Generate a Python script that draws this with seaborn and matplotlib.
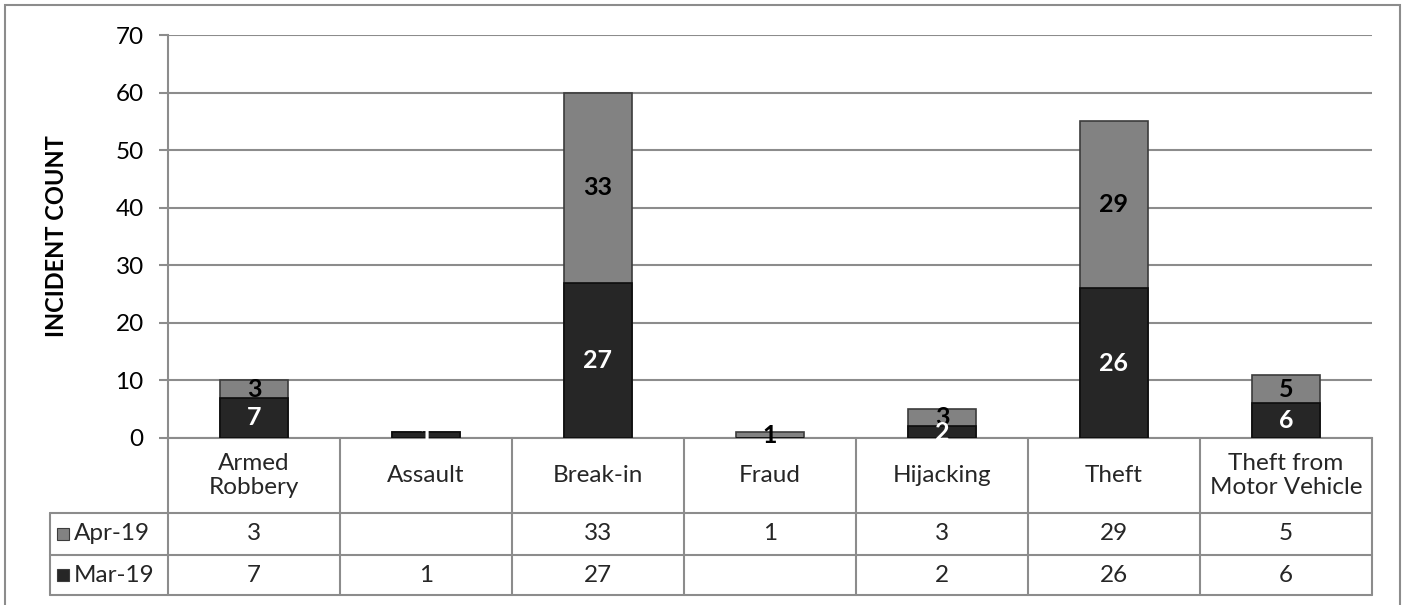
import numpy as np
import pandas as pd
import matplotlib
matplotlib.use("Agg")
import matplotlib.pyplot as plt
import seaborn as sns
from matplotlib.patches import Rectangle
from matplotlib.transforms import blended_transform_factory

categories = ["Armed\nRobbery", "Assault", "Break-in", "Fraud", "Hijacking",
              "Theft", "Theft from\nMotor Vehicle"]
apr_19 = [3, np.nan, 33, 1, 3, 29, 5]
mar_19 = [7, 1, 27, np.nan, 2, 26, 6]
series_names = ["Apr-19", "Mar-19"]

APR_COLOR = "#828282"
MAR_COLOR = "#262626"
GRID = "#8c8c8c"

sns.set_theme(style="white")
plt.rcParams['font.family'] = ['Lato', 'DejaVu Sans']

df = pd.DataFrame({"category": categories, "apr": apr_19, "mar": mar_19})
df["mar0"] = df["mar"].fillna(0)
df["total"] = df["mar0"] + df["apr"].fillna(0)

W, H = 1403, 605
fig = plt.figure(figsize=(W / 100, H / 100), dpi=100)
ax = fig.add_axes([168 / W, 1 - 438 / H, (1372 - 168) / W, 403 / H])

# stacked: full height in grey, Mar-19 drawn over it
sns.barplot(data=df, x="category", y="total", color=APR_COLOR, width=0.4,
            saturation=1, edgecolor="#3c3c3c", linewidth=1.2, ax=ax, zorder=3)
sns.barplot(data=df, x="category", y="mar0", color=MAR_COLOR, width=0.4,
            saturation=1, edgecolor="#0d0d0d", linewidth=1.2, ax=ax, zorder=4)

# value labels
for i, row in df.iterrows():
    if not np.isnan(row["apr"]):
        ax.text(i, row["mar0"] + row["apr"] / 2, f"{int(row['apr'])}", ha="center",
                va="center", fontsize=18, fontweight="bold", color="black", zorder=6)
    if not np.isnan(row["mar"]):
        ax.text(i, row["mar"] / 2, f"{int(row['mar'])}", ha="center",
                va="center", fontsize=18, fontweight="bold", color="white", zorder=6)

ax.set_xlim(-0.5, 6.5)
ax.set_ylim(0, 70)
ax.set_yticks(range(0, 71, 10))
ax.yaxis.grid(True, color=GRID, linewidth=1.5, zorder=0)
ax.set_axisbelow(True)
ax.set_xticks([])
ax.set_xlabel("")
ax.set_ylabel("INCIDENT COUNT", fontsize=17, fontweight="bold", color="black")
ax.yaxis.set_label_coords(-0.083, 0.5)
ax.tick_params(axis="y", length=6.5, width=1.5, color=GRID, labelsize=17.5,
               pad=11, left=True, labelcolor="black")
sns.despine(ax=ax, top=True, right=True, bottom=False)
for s in ["left", "bottom"]:
    ax.spines[s].set_color(GRID)
    ax.spines[s].set_linewidth(1.5)

# data table under the axis
tr = blended_transform_factory(ax.transData, ax.transAxes)
px = 7 / 1204
leg_left = -0.5 - (168 - 50) * px
row_y = [0, -0.186, -0.290, -0.390]
for y in row_y[1:]:
    ax.plot([leg_left, 6.5], [y, y], transform=tr, color=GRID, lw=1.5, clip_on=False)
for xb in np.arange(-0.5, 7, 1):
    ax.plot([xb, xb], [0, row_y[-1]], transform=tr, color=GRID, lw=1.5, clip_on=False)
ax.plot([leg_left, leg_left], [row_y[1], row_y[-1]], transform=tr, color=GRID,
        lw=1.5, clip_on=False)

for i, cat in enumerate(categories):
    ax.text(i, (row_y[0] + row_y[1]) / 2, cat, transform=tr, ha="center",
            va="center", fontsize=17.5, linespacing=1.15)
for r, (name, vals, col) in enumerate(zip(series_names, [apr_19, mar_19],
                                          [APR_COLOR, MAR_COLOR])):
    yc = (row_y[r + 1] + row_y[r + 2]) / 2
    for i, v in enumerate(vals):
        if not np.isnan(v):
            ax.text(i, yc, f"{int(v)}", transform=tr, ha="center", va="center",
                    fontsize=17.5)
    ax.add_patch(Rectangle((-0.5 - (168 - 57) * px, yc - 0.015), 12 * px, 0.03,
                           transform=tr, facecolor=col, edgecolor="#3c3c3c",
                           lw=0.8, clip_on=False))
    ax.text(-0.5 - (168 - 74) * px, yc, name, transform=tr, ha="left",
            va="center", fontsize=17.5)

fig.patches.append(Rectangle((5 / W, -0.02), (1400 - 5) / W, 1 - 5 / H + 0.02,
                             transform=fig.transFigure, fill=False,
                             edgecolor=GRID, lw=1.5))

fig.savefig("out.png", dpi=100)
